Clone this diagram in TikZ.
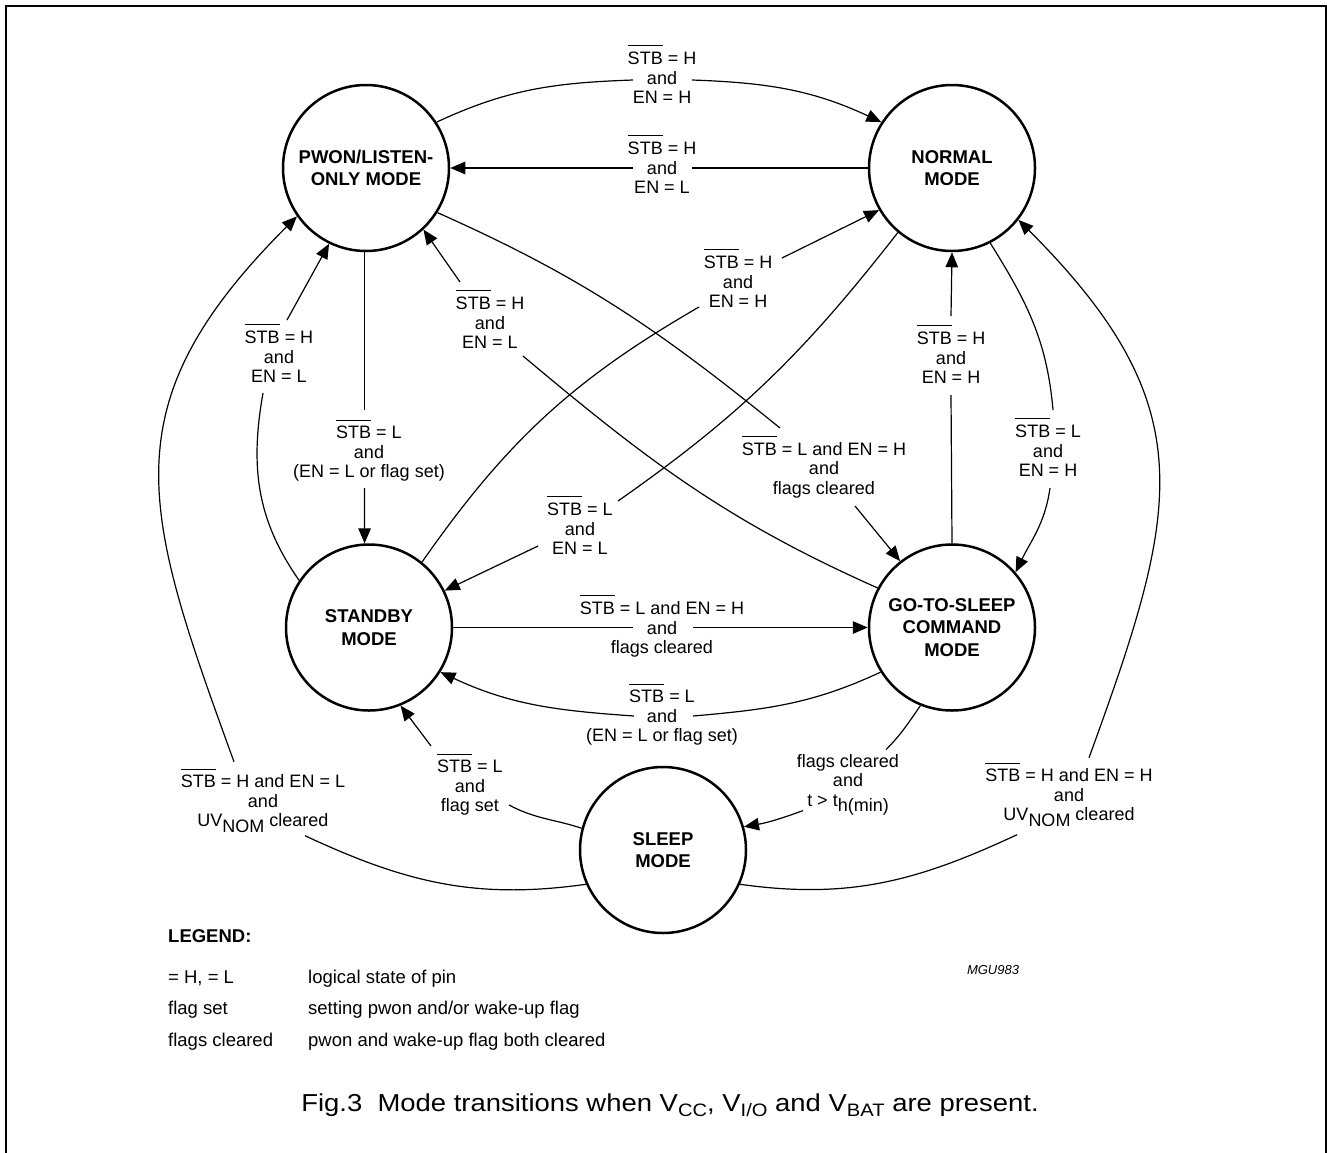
\documentclass[tikz,border=0pt]{standalone}
\usepackage{graphicx}
\usepackage{fontspec}
\setmainfont{Liberation Sans}
\usetikzlibrary{arrows.meta}
\newsavebox\ovlbox
\newcommand\ovl[1]{\sbox\ovlbox{#1}\usebox\ovlbox\llap{\smash{\rule[18.4pt]{\wd\ovlbox}{0.9pt}}}}
\newcommand\lsub[1]{\raisebox{-5.5pt}{#1}}
\newcommand\csub[1]{\raisebox{-5pt}{\fontsize{18}{18}\selectfont #1}}
\tikzset{
  mode/.style={circle, draw, line width=2.5pt, minimum size=166pt, inner sep=0pt, align=center,
    font=\fontsize{18.5}{22.5}\selectfont\bfseries},
  cond/.style={align=center, inner sep=0pt, font=\fontsize{18}{19.5}\selectfont},
  conn/.style={line width=1.2pt},
  arr/.style={conn, -{Triangle[length=15pt,width=12.5pt]}},
  legtext/.style={anchor=base west, inner sep=0pt, font=\fontsize{18.5}{20}\selectfont},
}
\begin{document}
\begin{tikzpicture}[x=1pt,y=1pt]
\useasboundingbox (0,0) rectangle (1327,-1152);
\draw[line width=2pt] (5.5,-1160) -- (5.5,-5.5) -- (1325.5,-5.5) -- (1325.5,-1160);

% modes
\node[mode] (pwon) at (366,-168) {PWON/LISTEN-\\ONLY MODE};
\node[mode] (normal) at (952,-168) {NORMAL\\MODE};
\node[mode] (standby) at (369,-627.5) {STANDBY\\MODE};
\node[mode] (gts) at (952,-627.5) {GO-TO-SLEEP\\COMMAND\\MODE};
\node[mode] (sleep) at (663,-850) {SLEEP\\MODE};

% condition labels
\node[cond] (l1) at (662,-78) {\ovl{STB} = H\\and\\EN = H};
\node[cond] (l2) at (662,-168) {\ovl{STB} = H\\and\\EN = L};
\node[cond] (l3) at (279,-357) {\ovl{STB} = H\\and\\EN = L};
\node[cond] (l4) at (369,-454) {\ovl{STB} = L\\and\\(EN = L or flag set)};
\node[cond] (l5) at (490,-323) {\ovl{STB} = H\\and\\EN = L};
\node[cond] (l6) at (738,-282) {\ovl{STB} = H\\and\\EN = H};
\node[cond] (l7) at (824,-470) {\ovl{STB} = L and EN = H\\and\\flags cleared};
\node[cond] (l8) at (951,-358) {\ovl{STB} = H\\and\\EN = H};
\node[cond] (l9) at (1048,-451) {\ovl{STB} = L\\and\\EN = H};
\node[cond] (l10) at (580,-529) {\ovl{STB} = L\\and\\EN = L};
\node[cond] (l11) at (263,-803.7) {\ovl{STB} = H and EN = L\\and\\UV\lsub{NOM} cleared};
\node[cond] (l12) at (1069,-797.7) {\ovl{STB} = H and EN = H\\and\\UV\lsub{NOM} cleared};
\node[cond] (l13) at (662,-629.5) {\ovl{STB} = L and EN = H\\and\\flags cleared};
\node[cond] (l14) at (662,-718) {\ovl{STB} = L\\and\\(EN = L or flag set)};
\node[cond] (l15) at (470,-788) {\ovl{STB} = L\\and\\flag set};
\node[cond] (l16) at (848,-784.6) {flags cleared\\and\\t > t\lsub{h(min)}};

% C1 PWON -> NORMAL (top arc)
\draw[conn] (pwon.33) to[out=25,in=182] ([shift={(-29pt,-2pt)}]l1.center);
\draw[arr] ([shift={(30pt,-2pt)}]l1.center) to[out=-2,in=155] (normal.147);
% C2 NORMAL -> PWON
\draw[conn] (normal.180) -- ([xshift=30pt]l2.center);
\draw[arr] ([xshift=-29pt]l2.center) -- (pwon.0);
% C3 PWON -> STANDBY
\coordinate (l4t) at ([yshift=44pt]l4.center);
\coordinate (l4b) at ([yshift=-34pt]l4.center);
\draw[conn] (pwon.-91) -- (pwon.-91 |- l4t);
\draw[arr] (pwon.-91 |- l4b) -- (standby.93);
% C4 STANDBY -> PWON (left)
\draw[conn] (standby.146) to[out=125,in=-100] ([shift={(-16pt,-36pt)}]l3.center);
\draw[arr] ([shift={(8pt,37pt)}]l3.center) -- (pwon.244);
% C5 GTS -> PWON
\draw[conn] (gts.152) to[out=156,in=-40] ([shift={(33pt,-33pt)}]l5.center);
\draw[arr] ([shift={(-30pt,41pt)}]l5.center) -- (pwon.-47);
% C6 STANDBY -> NORMAL
\draw[conn] (standby.51) to[out=55,in=-150] ([shift={(-39pt,-25pt)}]l6.center);
\draw[arr] ([shift={(44pt,24pt)}]l6.center) -- (normal.210);
% C7 PWON -> GTS
\draw[conn] (pwon.-32) to[out=-24,in=141] ([shift={(-44pt,42pt)}]l7.center);
\draw[arr] ([shift={(31pt,-36pt)}]l7.center) -- (gts.128);
% C8 NORMAL -> STANDBY
\draw[conn] (normal.230) to[out=-128,in=35] ([shift={(38pt,28pt)}]l10.center);
\draw[arr] ([shift={(-42pt,-17pt)}]l10.center) -- (standby.26);
% C9 GTS -> NORMAL (vertical)
\draw[conn] (gts.90) -- ([yshift=-37pt]l8.center);
\draw[arr] ([yshift=42pt]l8.center) -- (normal.270);
% C10 NORMAL -> GTS (right)
\draw[conn] (normal.-63) to[out=-58,in=95] ([shift={(5pt,41pt)}]l9.center);
\draw[arr] ([shift={(2pt,-37pt)}]l9.center) to[out=-98,in=64] (gts.41);
% C11 SLEEP -> NORMAL (big right arc)
\draw[conn] (sleep.-24) to[out=-8,in=205] ([shift={(-52pt,-37pt)}]l12.center);
\draw[arr] ([shift={(20pt,40pt)}]l12.center) to[out=70,in=-45,looseness=1.25] (normal.-38);
% C12 SLEEP -> PWON (big left arc)
\draw[conn] (sleep.204) to[out=188,in=-25] ([shift={(42pt,-32pt)}]l11.center);
\draw[arr] ([shift={(-29pt,42pt)}]l11.center) to[out=110,in=-135,looseness=1.25] (pwon.215);
% C13 STANDBY -> GTS
\draw[conn] (standby.0) -- ([shift={(-29pt,2pt)}]l13.center);
\draw[arr] ([shift={(31pt,2pt)}]l13.center) -- (gts.180);
% C14 GTS -> STANDBY
\draw[conn] (gts.212) to[out=205,in=5] ([shift={(31pt,2pt)}]l14.center);
\draw[arr] ([shift={(-28pt,2pt)}]l14.center) to[out=176,in=-25] (standby.-32);
% C15 SLEEP -> STANDBY
\draw[conn] (sleep.165) to[out=162,in=-28] ([shift={(39pt,-17pt)}]l15.center);
\draw[arr] ([shift={(-39pt,42pt)}]l15.center) -- (standby.-68);
% C16 GTS -> SLEEP
\draw[conn] (gts.-112) to[out=-125,in=45] ([shift={(38pt,35pt)}]l16.center);
\draw[arr] ([shift={(-45pt,-26pt)}]l16.center) to[out=200,in=10] (sleep.16);

% legend
\node[legtext, font=\fontsize{18.5}{20}\selectfont\bfseries] (leg) at (168,-942.5) {LEGEND:};
\node[legtext] (k1) at (168,-983.5) {= H, = L};
\node[legtext] (v1) at (308,-983.5) {logical state of pin};
\node[legtext] (k2) at (168,-1014.5) {flag set};
\node[legtext] (v2) at (308,-1014.5) {setting pwon and/or wake-up flag};
\node[legtext] (k3) at (168,-1046.5) {flags cleared};
\node[legtext] (v3) at (308,-1046.5) {pwon and wake-up flag both cleared};
\node[anchor=base, inner sep=0pt, font=\fontsize{13}{15}\selectfont\itshape] (code) at (993,-974) {MGU983};
\node[anchor=base, inner sep=0pt, font=\fontsize{24.5}{26}\selectfont] (cap) at (670,-1111.5)
  {\scalebox{1.12}[1]{Fig.3\ \ Mode transitions when V\csub{CC}, V\csub{I/O} and V\csub{BAT} are present.}};
\end{tikzpicture}
\end{document}
